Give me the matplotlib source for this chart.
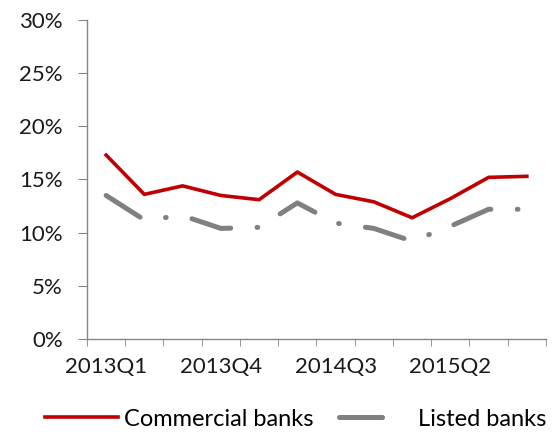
import numpy as np
import matplotlib.pyplot as plt
from matplotlib.lines import Line2D

plt.rcParams['font.family'] = ['Lato', 'DejaVu Sans']
plt.rcParams['lines.scale_dashes'] = False

# Quarterly data, 2013Q1 - 2015Q4
quarters = ["2013Q1", "2013Q2", "2013Q3", "2013Q4",
            "2014Q1", "2014Q2", "2014Q3", "2014Q4",
            "2015Q1", "2015Q2", "2015Q3", "2015Q4"]
commercial = [17.3, 13.6, 14.4, 13.5, 13.1, 15.7, 13.6, 12.9, 11.4, 13.2, 15.2, 15.3]
listed = [13.5, 11.2, 11.6, 10.4, 10.5, 12.8, 10.9, 10.4, 9.2, 10.6, 12.2, 12.2]

x = np.arange(len(quarters))
red = "#C00000"
grey = "#808080"

fig = plt.figure(figsize=(5.59, 4.32), dpi=100)
ax = fig.add_axes([0.1556, 0.2153, 0.8211, 0.7384])

ax.plot(x, commercial, color=red, lw=2.6, solid_joinstyle="round")
ax.plot(x, listed, color=grey, lw=3.6, dash_capstyle="round",
        linestyle=(0, (29, 19, 0.5, 19)))

ax.set_xlim(-0.5, len(quarters) - 0.5)
ax.set_ylim(0, 30)
ax.set_yticks(range(0, 31, 5))
ax.set_yticklabels([f"{v}%" for v in range(0, 31, 5)])

ax.set_xticks(x[::3])
ax.set_xticklabels(quarters[::3])
ax.set_xticks(np.arange(-0.5, len(quarters)), minor=True)
ax.tick_params(axis="x", which="major", length=0, pad=13)
ax.tick_params(axis="x", which="minor", length=5, color="#868686")
ax.tick_params(axis="y", length=6.5, color="#868686", pad=11)
ax.tick_params(labelsize=16, labelcolor="#1a1a1a")

for s in ["top", "right"]:
    ax.spines[s].set_visible(False)
for s in ["left", "bottom"]:
    ax.spines[s].set_color("#868686")
    ax.spines[s].set_linewidth(1)

# legend with a single grey dash as the handle
handles = [Line2D([], [], color=red, lw=2.6),
           Line2D([], [], color=grey, lw=3.6, dash_capstyle="round",
                  linestyle=(0, (31, 60)))]
fig.legend(handles, ["Commercial banks", "Listed banks"],
           loc="center left", bbox_to_anchor=(0.08, 0.03), ncol=2,
           frameon=False, fontsize=17, handlelength=3.1, handletextpad=0.25,
           columnspacing=1.1, borderpad=0, borderaxespad=0)

fig.savefig("out.png", dpi=100)
